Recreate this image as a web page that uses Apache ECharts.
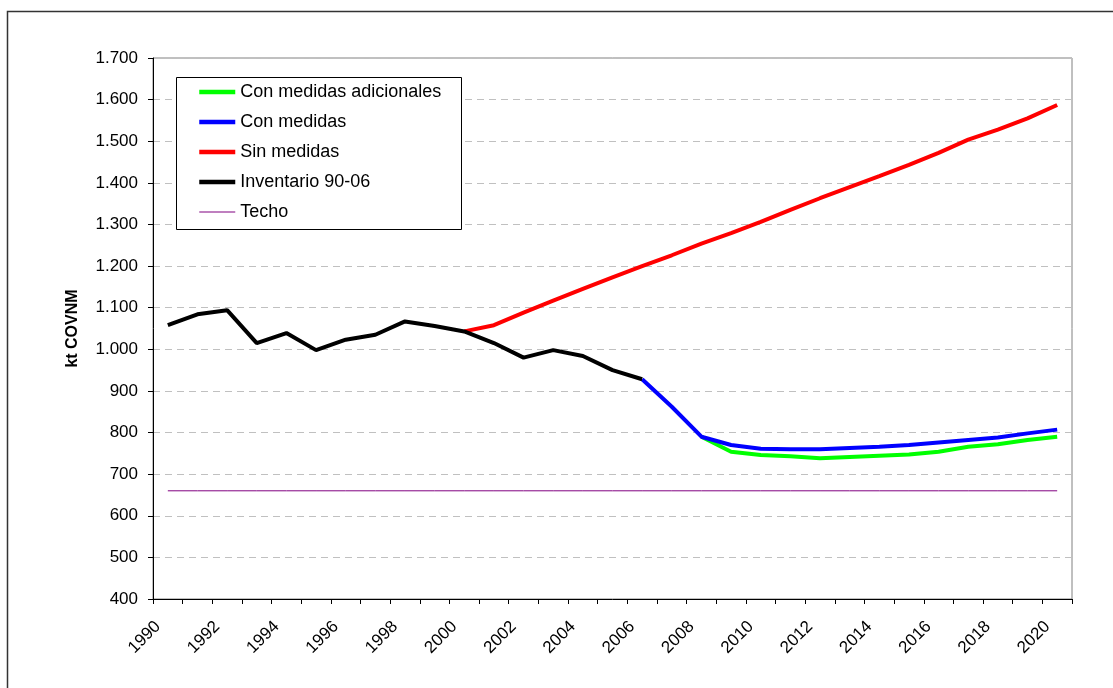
<!DOCTYPE html>
<html>
<head>
<meta charset="utf-8">
<script src="https://cdn.jsdelivr.net/npm/echarts@6/dist/echarts.min.js"></script>
<style>
html,body{margin:0;padding:0;background:#fff;}
#chart{width:1113px;height:688px;}
</style>
</head>
<body>
<div id="chart"></div>
<script>
var years = ['1990','1991','1992','1993','1994','1995','1996','1997','1998','1999','2000',
  '2001','2002','2003','2004','2005','2006','2007','2008','2009','2010',
  '2011','2012','2013','2014','2015','2016','2017','2018','2019','2020'];
var yTicks = [400, 500, 600, 700, 800, 900, 1000, 1100, 1200, 1300, 1400, 1500, 1600, 1700];
var seriesNames = ['Con medidas adicionales', 'Con medidas', 'Sin medidas', 'Inventario 90-06', 'Techo'];

var conMedidasAdicionales = [null,null,null,null,null,null,null,null,null,null,null,
  null,null,null,null,null,null,null,790,754,746,743,738,741,744,747,754,766,772,782,790];
var conMedidas = [null,null,null,null,null,null,null,null,null,null,null,
  null,null,null,null,null,928,862,790,770,761,760,760,763,766,770,776,782,788,798,807];
var sinMedidas = [null,null,null,null,null,null,null,null,null,null,1043,
  1058,1088,1117,1145,1173,1200,1226,1254,1279,1306,1335,1363,1390,1416,1443,1472,1504,1528,1555,1587];
var inventario = [1058,1084,1094,1015,1039,998,1023,1035,1067,1056,1043,
  1015,980,998,984,950,928];
var techo = [660,660,660,660,660,660,660,660,660,660,660,660,660,660,660,660,
  660,660,660,660,660,660,660,660,660,660,660,660,660,660,660];

var colors = ['#00ff00', '#0000ff', '#ff0000', '#000000', '#800080'];
var widths = [4, 4, 4, 4, 1];

var FONT = '"Liberation Sans", Arial, sans-serif';
var chart = echarts.init(document.getElementById('chart'));

function fmt(v){
  var s = String(v);
  return s.length > 3 ? s.slice(0, s.length-3) + '.' + s.slice(s.length-3) : s;
}

var allData = [conMedidasAdicionales, conMedidas, sinMedidas, inventario, techo];
var series = allData.map(function(d, i){
  return {
    name: seriesNames[i], type: 'line', data: d, symbol: 'none', showSymbol: false,
    lineStyle: {color: colors[i], width: widths[i]}, itemStyle: {color: colors[i]},
    silent: true
  };
});
var legendData = seriesNames.map(function(n, i){
  return {name: n, lineStyle: {width: i === 4 ? 1.2 : 4.5, color: colors[i]}};
});

chart.setOption({
  animation: false,
  backgroundColor: '#ffffff',
  textStyle: {fontFamily: FONT},
  grid: {left: 153, top: 58, right: 41, bottom: 89, show: true, borderColor: '#808080', borderWidth: 1, backgroundColor: 'transparent'},
  graphic: [
    {type: 'rect', shape: {x: 7.5, y: 11.5, width: 1200, height: 800}, style: {fill: 'none', stroke: '#333', lineWidth: 1.5}, silent: true, z: -10},
    {type: 'rect', shape: {x: 176.5, y: 77.5, width: 285, height: 152}, style: {fill: '#fff', stroke: '#000', lineWidth: 1}, silent: true, z: 3}
  ],
  legend: {
    orient: 'vertical', left: 176, top: 77, padding: [5, 18, 7, 21],
    itemWidth: 36, itemHeight: 14, itemGap: 10,
    itemStyle: {opacity: 0},
    textStyle: {fontFamily: FONT, fontSize: 18, color: '#000', lineHeight: 20},
    data: legendData, selectedMode: false, z: 5
  },
  xAxis: {
    type: 'category', data: years, boundaryGap: true,
    axisLine: {lineStyle: {color: '#000', width: 1}},
    axisTick: {show: true, interval: 0, length: 5, lineStyle: {color: '#000'}},
    axisLabel: {interval: 1, rotate: 45, margin: 15, padding: [0, 14, 0, 0], fontFamily: FONT, fontSize: 17, color: '#000'},
    splitLine: {show: false}
  },
  yAxis: {
    type: 'value', min: 400, max: 1700, interval: 100,
    name: 'kt COVNM', nameLocation: 'middle', nameGap: 72,
    nameTextStyle: {fontFamily: FONT, fontSize: 16, fontWeight: 'bold', color: '#000'},
    axisLine: {show: true, lineStyle: {color: '#000', width: 1}},
    axisTick: {show: true, length: 5, lineStyle: {color: '#000'}},
    axisLabel: {margin: 15, fontFamily: FONT, fontSize: 17, color: '#000', formatter: fmt},
    splitLine: {show: true, lineStyle: {color: '#c0c0c0', type: [7, 5], width: 1}}
  },
  series: series
});
</script>
</body>
</html>
